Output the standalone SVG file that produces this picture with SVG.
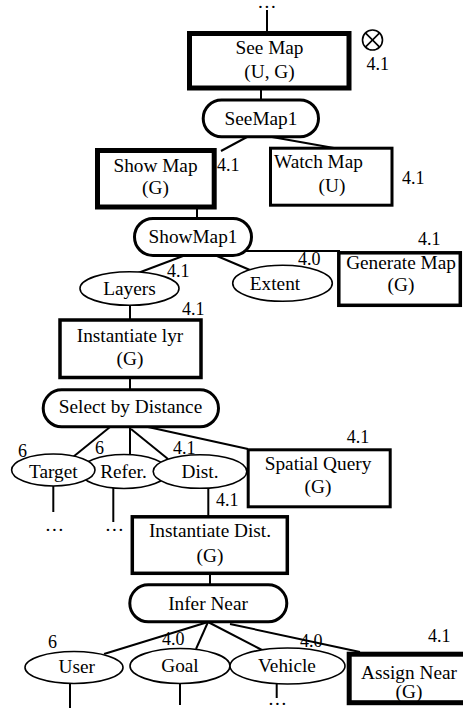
<svg xmlns="http://www.w3.org/2000/svg" width="463" height="708" viewBox="0 0 463 708">
  <style>
    text { font-family: "Liberation Serif", "Times New Roman", "DejaVu Serif", serif; fill: #000; }
    .lbl { font-size: 19.3px; text-anchor: middle; }
    .num { font-size: 18px; }
    .box { fill: #fff; stroke: #000; stroke-width: 3.5; }
    .bold { stroke-width: 5; }
    .thin { stroke-width: 3; }
    .pill { fill: #fff; stroke: #000; stroke-width: 3; }
    .ell { fill: #fff; stroke: #000; stroke-width: 1.6; }
    .edge { stroke: #000; stroke-width: 2; fill: none; }
  </style>
  <rect width="463" height="708" fill="#fff"/>

  <!-- connectors -->
  <g id="connectors" class="edge">
    <line x1="267" y1="10" x2="267" y2="32"/>
    <line x1="261" y1="90" x2="261" y2="100"/>
    <line x1="247" y1="137" x2="221" y2="151"/>
    <line x1="272" y1="137" x2="334" y2="148"/>
    <line x1="197" y1="208" x2="197" y2="219"/>
    <line x1="240" y1="251" x2="340" y2="251"/>
    <line x1="183" y1="256" x2="138" y2="273"/>
    <line x1="217" y1="256" x2="250" y2="270"/>
    <line x1="130" y1="304" x2="130" y2="320"/>
    <line x1="130" y1="378" x2="130" y2="390"/>
    <line x1="110" y1="427" x2="73" y2="457"/>
    <line x1="130" y1="427" x2="130" y2="457"/>
    <line x1="131" y1="429" x2="168" y2="459"/>
    <line x1="148" y1="427" x2="248" y2="449"/>
    <line x1="53.3" y1="486" x2="53.3" y2="512"/>
    <line x1="113.3" y1="488" x2="113.3" y2="522"/>
    <line x1="208.3" y1="488" x2="208.3" y2="517"/>
    <line x1="210" y1="574" x2="210" y2="585"/>
    <line x1="208" y1="622" x2="104" y2="654"/>
    <line x1="208" y1="622" x2="196" y2="649"/>
    <line x1="208" y1="622" x2="262" y2="650"/>
    <line x1="230" y1="624" x2="360" y2="652"/>
    <line x1="70" y1="683" x2="70" y2="708"/>
    <line x1="180" y1="683" x2="180" y2="705"/>
    <line x1="276.7" y1="684" x2="276.7" y2="698"/>
  </g>

  <text class="lbl" x="267" y="8">…</text>

  <g id="see-map">
    <rect class="box bold" x="189.5" y="33.5" width="159.5" height="54.5"/>
    <text class="lbl" x="269.5" y="53.5">See Map</text>
    <text class="lbl" x="269.5" y="77.5">(U, G)</text>
  </g>
  <g id="see-map-mark">
    <circle cx="372.5" cy="40" r="10" fill="none" stroke="#000" stroke-width="1.6"/>
    <line x1="365.4" y1="32.9" x2="379.6" y2="47.1" stroke="#000" stroke-width="1.6"/>
    <line x1="379.6" y1="32.9" x2="365.4" y2="47.1" stroke="#000" stroke-width="1.6"/>
    <text class="num" x="366.5" y="70">4.1</text>
  </g>

  <g id="seemap1">
    <rect class="pill" x="203.2" y="100" width="115.3" height="36.8" rx="18.4"/>
    <text class="lbl" x="261" y="125">SeeMap1</text>
  </g>

  <g id="show-map">
    <rect class="box bold" x="97.5" y="150.5" width="116.7" height="56.5"/>
    <text class="lbl" x="155.5" y="171.5">Show Map</text>
    <text class="lbl" x="155.5" y="193.5">(G)</text>
    <text class="num" x="217" y="171">4.1</text>
  </g>

  <g id="watch-map">
    <rect class="box thin" x="270.5" y="148.2" width="121.5" height="57"/>
    <text class="lbl" x="274" y="168" style="text-anchor:start">Watch Map</text>
    <text class="lbl" x="332" y="191.5">(U)</text>
    <text class="num" x="402" y="184">4.1</text>
  </g>

  <g id="showmap1">
    <rect class="pill" x="134.5" y="218.5" width="117" height="37" rx="18.5"/>
    <text class="lbl" x="193" y="243">ShowMap1</text>
  </g>

  <g id="generate-map">
    <rect class="box" x="338.8" y="252.8" width="121.5" height="52.5"/>
    <text class="lbl" x="401" y="268.5">Generate Map</text>
    <text class="lbl" x="401" y="291">(G)</text>
    <text class="num" x="418" y="245">4.1</text>
  </g>

  <g id="layers">
    <ellipse class="ell" cx="129.5" cy="288.5" rx="49.5" ry="16.8"/>
    <text class="lbl" x="129.5" y="295">Layers</text>
    <text class="num" x="167" y="277">4.1</text>
  </g>

  <g id="extent">
    <ellipse class="ell" cx="282.5" cy="283.3" rx="49.8" ry="18"/>
    <text class="lbl" x="275" y="290">Extent</text>
    <text class="num" x="298" y="265">4.0</text>
  </g>

  <g id="instantiate-lyr">
    <rect class="box" x="60" y="320" width="141" height="57.5"/>
    <text class="lbl" x="130" y="341.7">Instantiate lyr</text>
    <text class="lbl" x="130" y="364.5">(G)</text>
    <text class="num" x="182" y="315">4.1</text>
  </g>

  <g id="select-by-distance">
    <rect class="pill" x="43.2" y="389.8" width="175.3" height="37" rx="18.5"/>
    <text class="lbl" x="130.5" y="413.3">Select by Distance</text>
  </g>

  <g id="refer">
    <ellipse class="ell" cx="124" cy="471.5" rx="44" ry="17"/>
    <text class="lbl" x="123.5" y="478.3">Refer.</text>
    <text class="num" x="95" y="454">6</text>
  </g>

  <g id="target">
    <ellipse class="ell" cx="53.3" cy="470" rx="41.7" ry="16"/>
    <text class="lbl" x="53.3" y="478.3">Target</text>
    <text class="num" x="18" y="456.7">6</text>
  </g>

  <g id="dist">
    <ellipse class="ell" cx="200" cy="471.5" rx="46.8" ry="16.8"/>
    <text class="lbl" x="200" y="478.3">Dist.</text>
    <text class="num" x="173" y="454">4.1</text>
    <text class="num" x="216" y="506">4.1</text>
  </g>

  <text class="lbl" x="54.5" y="531">…</text>
  <text class="lbl" x="114.5" y="531">…</text>

  <g id="spatial-query">
    <rect class="box thin" x="248.2" y="449.8" width="142" height="57"/>
    <text class="lbl" x="318" y="470">Spatial Query</text>
    <text class="lbl" x="318" y="493">(G)</text>
    <text class="num" x="346.7" y="443">4.1</text>
  </g>

  <g id="instantiate-dist">
    <rect class="box" x="132.3" y="516.8" width="155" height="56.5"/>
    <text class="lbl" x="210" y="536.7">Instantiate Dist.</text>
    <text class="lbl" x="210" y="561.5">(G)</text>
  </g>

  <g id="infer-near">
    <rect class="pill" x="129.8" y="584.8" width="157" height="37" rx="18.5"/>
    <text class="lbl" x="208" y="610">Infer Near</text>
  </g>

  <g id="user">
    <ellipse class="ell" cx="74" cy="667.5" rx="49" ry="16"/>
    <text class="lbl" x="76.7" y="673.3">User</text>
    <text class="num" x="48" y="648">6</text>
  </g>

  <g id="goal">
    <ellipse class="ell" cx="180" cy="666" rx="50" ry="17.5"/>
    <text class="lbl" x="180" y="672">Goal</text>
    <text class="num" x="162" y="645">4.0</text>
  </g>

  <g id="vehicle">
    <ellipse class="ell" cx="287.5" cy="666" rx="57.5" ry="18"/>
    <text class="lbl" x="287" y="672">Vehicle</text>
    <text class="num" x="300" y="647">4.0</text>
  </g>
  <text class="lbl" x="277.5" y="705">…</text>

  <g id="assign-near">
    <rect class="box bold" x="349.2" y="654.2" width="120" height="48.5"/>
    <text class="lbl" x="409" y="678.5">Assign Near</text>
    <text class="lbl" x="409" y="698">(G)</text>
    <text class="num" x="428" y="642">4.1</text>
  </g>
</svg>
